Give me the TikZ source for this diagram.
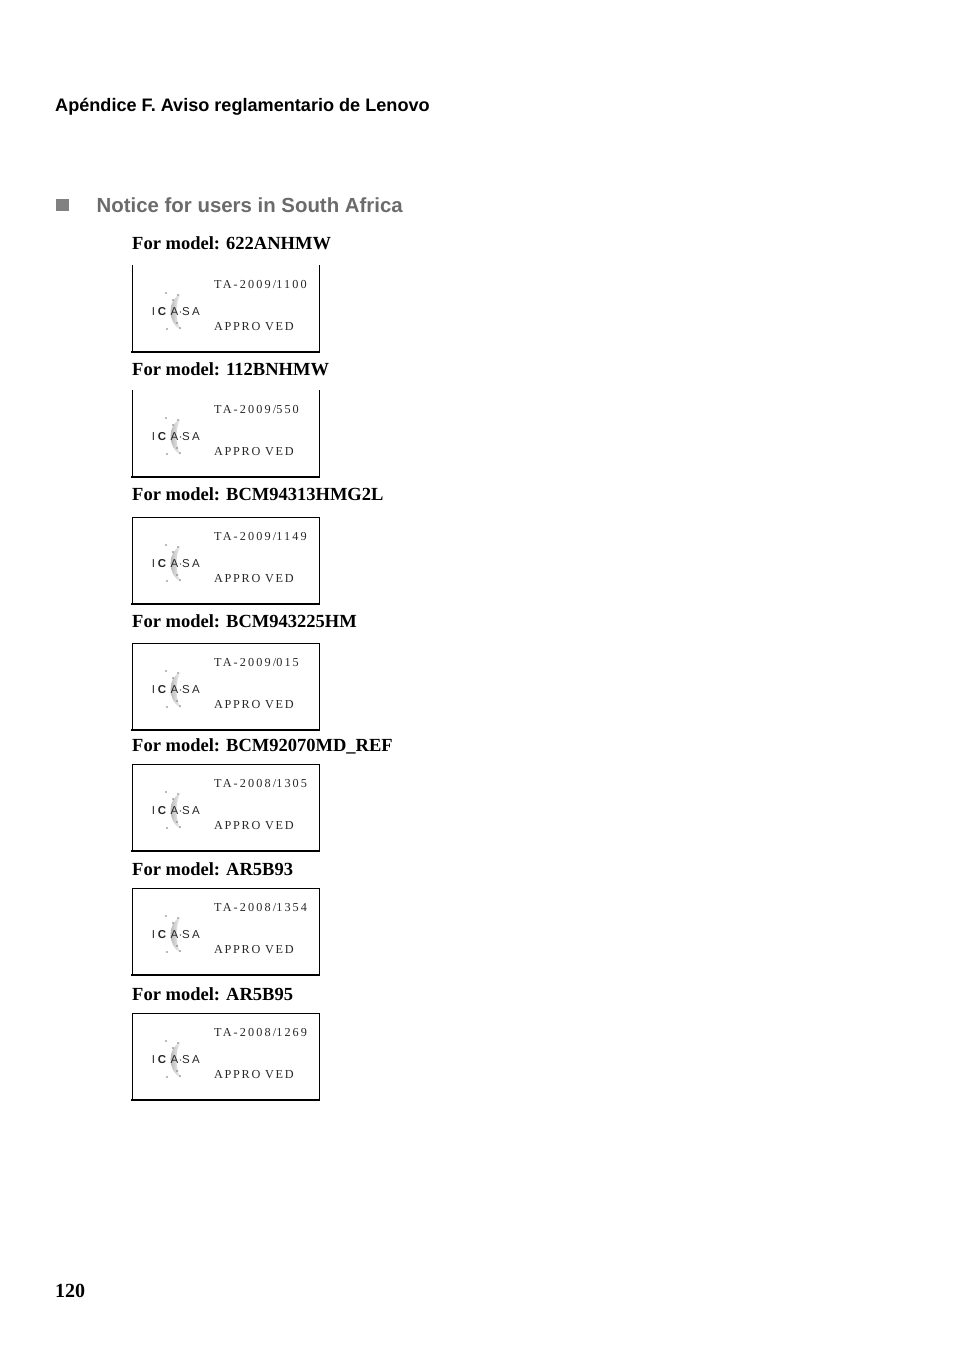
\documentclass[tikz,border=0pt]{standalone}
\usepackage{fontspec}
\setmainfont{Liberation Serif}
\setsansfont{Liberation Sans}
\newfontfamily\stampfont[LetterSpace=14]{Liberation Serif}
\newfontfamily\codefont[LetterSpace=17.5]{Liberation Serif}
\usetikzlibrary{positioning}
\definecolor{headgray}{gray}{0.42}
\tikzset {
  % page titles
  chapter/.style = {
    anchor = base west,
    inner sep = 0,
    font = \sffamily\bfseries\fontsize{18.1}{20}\selectfont
  },
  section/.style = {
    chapter,
    text = headgray,
    font = \sffamily\bfseries\fontsize{20.4}{22}\selectfont
  },
  bullet/.style = {
    fill = headgray!85,
    minimum size = 12.5pt,
    inner sep = 0
  },
  model/.style = {
    anchor = base west,
    inner sep = 0,
    font = \bfseries\fontsize{18.5}{21}\selectfont
  },
  pageno/.style = {
    model,
    font = \bfseries\fontsize{20}{22}\selectfont
  },
  % label box, the frame is drawn on its own
  stamp/.style = {
    minimum width = 187pt,
    minimum height = 87pt,
    inner sep = 0,
    anchor = north west
  },
  frame/.style = {
    draw = black,
    line width = 1pt,
    line cap = rect
  },
  heavy/.style = {
    frame,
    line width = 2pt
  },
  stamp text/.style = {
    anchor = base west,
    inner sep = 0,
    text = black!85,
    font = \stampfont\fontsize{12.2}{14}\selectfont
  },
  code text/.style = {
    stamp text,
    font = \codefont\fontsize{12.2}{14}\selectfont
  },
  logo letter/.style = {
    inner sep = 0,
    text = black!85,
    font = \sffamily\fontsize{11.5}{12}\selectfont
  },
  logo dot/.style = {
    fill = black!55,
    circle,
    inner sep = 0,
    minimum size = 1.6pt
  },
  icasa/.pic = {
    % crescent
    \shade[left color = black!35, right color = black!3]
      (49,29) .. controls (35,34) and (35,58) .. (49,65)
      .. controls (43,56) and (43,37) .. cycle;
    \node[logo dot] at (34,28) {};
    \node[logo dot] at (41,35) {};
    \node[logo dot] at (46,30) {};
    \node[logo dot] at (35,64) {};
    \node[logo dot] at (45,58) {};
    \node[logo dot] at (48,63) {};
    \node[logo letter] at (21.5,47) {I};
    \node[logo letter, font = \sffamily\bfseries\fontsize{11.5}{12}\selectfont] at (30,47) {C};
    \node[logo letter] at (42.5,47) {A};
    \node[logo letter] at (54,47) {S};
    \node[logo letter] at (64,47) {A};
    \node[logo dot] at (48.5,47) {};
  }
}
\begin{document}
\begin{tikzpicture}[x=1pt,y=-1pt]
  \useasboundingbox (0,0) rectangle (954,1352);

  \node[chapter] (chapter) at (55,111) {Apéndice F. Aviso reglamentario de Lenovo};
  \node[bullet] (mark) at (62.5,205) {};
  \node[section] (notice) at (96.5,212) {Notice for users in South Africa};
  \node[pageno] (pageno) at (55,1297) {120};

  \foreach \i/\name/\labely/\boxy/\code in {
    1/622ANHMW/249/265/2009\slash 1100,
    2/112BNHMW/375/390/2009\slash 550,
    3/BCM94313HMG2L/500/517/2009\slash 1149,
    4/BCM943225HM/627/643/2009\slash 015,
    5/BCM92070MD\_REF/751/764/2008\slash 1305,
    6/AR5B93/875/888/2008\slash 1354,
    7/AR5B95/1000/1013/2008\slash 1269} {
    \node[model] (model\i) at (132,\labely) {For model: \name};
    \node[stamp] (box\i) at (132,\boxy) {};
    \draw[frame, line cap = butt] (box\i.north west) -- (box\i.south west);
    \draw[frame, line width = 1.4pt, line cap = butt] (box\i.north east) -- (box\i.south east);
    \draw[heavy] (box\i.south west) -- (box\i.south east);
    \ifnum\i>2
      \draw[frame] (box\i.north west) -- (box\i.north east);
    \fi
    \node[code text] (code\i) at ([xshift=82pt,yshift=-23pt]box\i.north west) {TA-\code};
    \node[stamp text] (ok\i) at ([xshift=82pt,yshift=-65pt]box\i.north west) {APPRO VED};
    \pic at (box\i.north west) {icasa};
  }
\end{tikzpicture}
\end{document}
